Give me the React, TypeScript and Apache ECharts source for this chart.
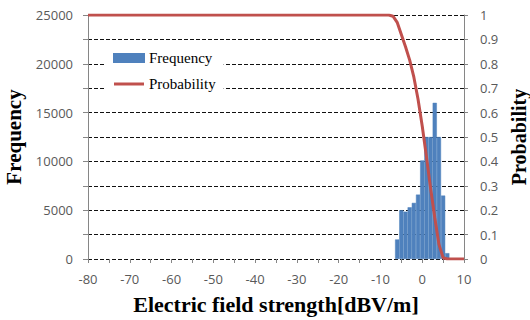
import React, { useEffect, useRef } from "react";
import * as echarts from "echarts";

// Histogram bins (centre of each 1 dB bin) and counts
const binCenters = [-6, -5, -4, -3, -2, -1, 0, 1, 2, 3, 4, 5, 6];
const frequency = [2000, 5000, 4850, 5300, 5750, 6600, 10100, 12500, 12500, 16000, 12500, 6500, 600];

// Probability curve
const probX = [-80, -8, -7, -6, -5, -4, -3, -2, -1, 0, 1, 2, 3, 4, 5, 6, 10];
const probability = [1, 1, 0.995, 0.97, 0.92, 0.87, 0.815, 0.745, 0.655, 0.545, 0.42, 0.29, 0.17, 0.06, 0.005, 0, 0];

const AXIS_GRAY = "#868686";
const LABEL_COLOR = "#595959";
const LABEL_FONT = "Open Sans";
const SERIF = "Liberation Serif";

export default function App() {
  const ref = useRef<HTMLDivElement>(null);
  useEffect(() => {
    if (!ref.current) return;
    const chart = echarts.init(ref.current, null, { renderer: "svg" });
    chart.setOption({
      animation: false,
      backgroundColor: "#fff",
      grid: { left: 88, right: 66, top: 15, bottom: 61, containLabel: false, outerBoundsMode: "none" },
      legend: {
        orient: "vertical",
        left: 105,
        top: 42,
        padding: 8,
        itemGap: 10,
        itemWidth: 30,
        itemHeight: 8,
        backgroundColor: "#fff",
        textStyle: { fontFamily: SERIF, fontSize: 15, color: "#000", lineHeight: 16 },
        data: [
          { name: "Frequency", icon: "rect" },
          { name: "Probability", icon: "path://M0,0H30V3H0Z" },
        ],
      },
      xAxis: {
        type: "value",
        min: -80,
        max: 10,
        interval: 10,
        axisLine: { show: false, onZero: false },
        axisTick: { show: true, length: 4, lineStyle: { color: AXIS_GRAY } },
        minorTick: { show: true, splitNumber: 2, length: 4, lineStyle: { color: AXIS_GRAY } },
        splitLine: { show: false },
        axisLabel: { color: LABEL_COLOR, fontSize: 13, fontFamily: LABEL_FONT, margin: 13 },
        name: "Electric field strength[dBV/m]",
        nameLocation: "middle",
        nameGap: 34,
        nameTextStyle: { fontFamily: SERIF, fontWeight: "bold", fontSize: 22, color: "#000", lineHeight: 22 },
      },
      yAxis: [
        {
          type: "value",
          position: "left",
          min: 0,
          max: 25000,
          interval: 5000,
          axisLine: { show: true, onZero: false, lineStyle: { color: AXIS_GRAY } },
          axisTick: { show: true, length: 5, lineStyle: { color: AXIS_GRAY } },
          minorTick: { show: true, splitNumber: 2, length: 5, lineStyle: { color: AXIS_GRAY } },
          splitLine: { show: false },
          axisLabel: {
            color: LABEL_COLOR,
            fontSize: 13,
            fontFamily: LABEL_FONT,
            margin: 15,
            formatter: (v: number) => String(v),
          },
          name: "Frequency",
          nameLocation: "middle",
          nameRotate: 90,
          nameGap: 58,
          nameTextStyle: { fontFamily: SERIF, fontWeight: "bold", fontSize: 21, color: "#000", lineHeight: 21 },
        },
        {
          type: "value",
          position: "right",
          min: 0,
          max: 1,
          interval: 0.1,
          axisLine: { show: true, onZero: false, lineStyle: { color: AXIS_GRAY } },
          axisTick: { show: true, length: 4, lineStyle: { color: AXIS_GRAY } },
          splitLine: { show: true, lineStyle: { color: "#111", type: [4, 2], width: 1 } },
          axisLabel: { color: LABEL_COLOR, fontSize: 13, fontFamily: LABEL_FONT, margin: 16 },
          name: "Probability",
          nameLocation: "middle",
          nameRotate: 90,
          nameGap: 44,
          nameTextStyle: { fontFamily: SERIF, fontWeight: "bold", fontSize: 20, color: "#000", lineHeight: 20 },
        },
      ],
      series: [
        {
          type: "bar",
          name: "Frequency",
          yAxisIndex: 0,
          barCategoryGap: "0%",
          data: binCenters.map((x, i) => [x, frequency[i]]),
          itemStyle: { color: "#4F81BD", borderColor: "#4F81BD", borderWidth: 0.5 },
        },
        {
          type: "line",
          name: "Probability",
          yAxisIndex: 1,
          symbol: "none",
          data: probX.map((x, i) => [x, probability[i]]),
          lineStyle: { color: "#C0504D", width: 3 },
          itemStyle: { color: "#C0504D" },
          z: 3,
        },
      ],
    });
    return () => chart.dispose();
  }, []);
  return <div ref={ref} style={{ position: "fixed", left: 0, top: 0, width: 530, height: 320 }} />;
}
